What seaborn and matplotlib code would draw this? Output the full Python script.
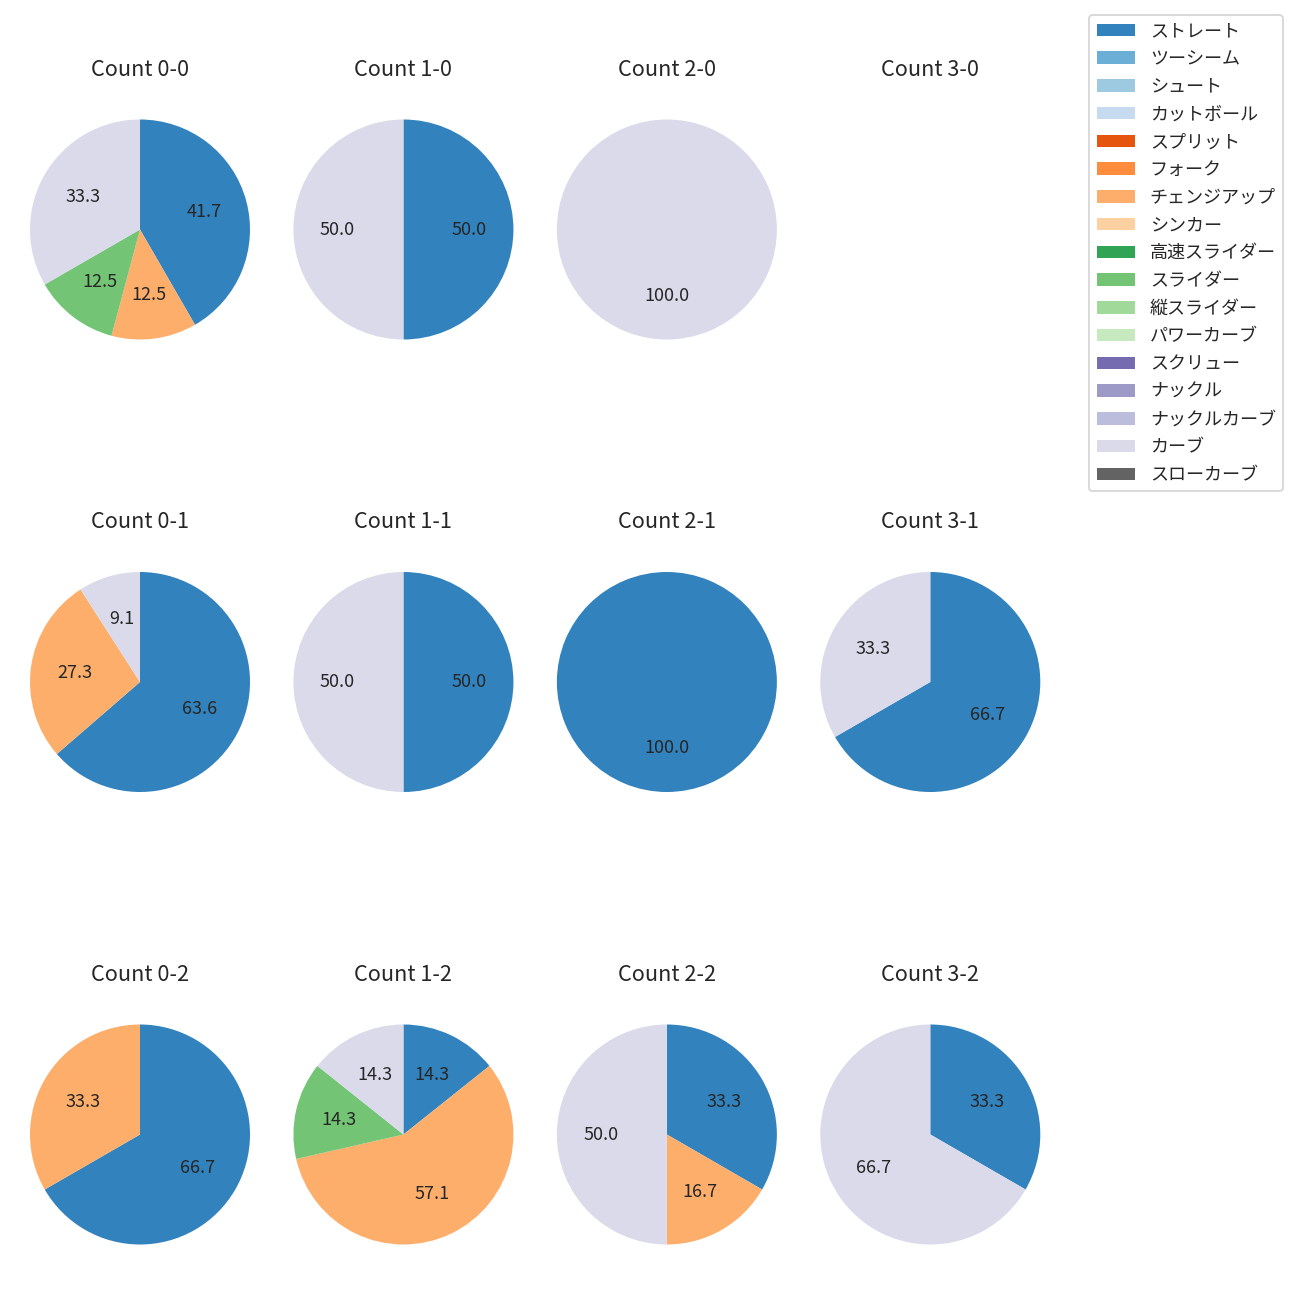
import matplotlib
matplotlib.use("Agg")
import matplotlib.pyplot as plt
from matplotlib.patches import Patch
import seaborn as sns

sns.set_style("white")
plt.rcParams['font.family'] = ['Noto Sans CJK JP', 'DejaVu Sans']
plt.rcParams['patch.force_edgecolor'] = False

# pitch types, in legend order
pitch_types = ['ストレート', 'ツーシーム', 'シュート', 'カットボール', 'スプリット', 'フォーク',
               'チェンジアップ', 'シンカー', '高速スライダー', 'スライダー', '縦スライダー',
               'パワーカーブ', 'スクリュー', 'ナックル', 'ナックルカーブ', 'カーブ', 'スローカーブ']

# counts (balls-strikes), row = strikes, column = balls
count_labels = ['0-0', '1-0', '2-0', '3-0',
                '0-1', '1-1', '2-1', '3-1',
                '0-2', '1-2', '2-2', '3-2']

# number of pitches per count for the types that were thrown
straight = [10, 1, 0, 0, 7, 1, 1, 2, 2, 1, 2, 1]
changeup = [3, 0, 0, 0, 3, 0, 0, 0, 1, 4, 1, 0]
slider = [3, 0, 0, 0, 0, 0, 0, 0, 0, 1, 0, 0]
curve = [8, 1, 1, 0, 1, 1, 0, 1, 0, 1, 3, 2]

thrown = {'ストレート': straight, 'チェンジアップ': changeup, 'スライダー': slider, 'カーブ': curve}

palette = sns.color_palette('tab20c', 20)[:len(pitch_types)]
color_map = dict(zip(pitch_types, palette))

fig, axes = plt.subplots(3, 4, figsize=(10, 10))
fig.subplots_adjust(left=0.001923, right=0.82138, top=0.92923, bottom=0.021538,
                    wspace=-0.04206, hspace=0.64545)

for i, label in enumerate(count_labels):
    ax = axes[i // 4][i % 4]
    vals, cols = [], []
    for p in pitch_types:
        if p in thrown and thrown[p][i] > 0:
            vals.append(thrown[p][i])
            cols.append(color_map[p])
    if not vals:
        ax.axis('off')
    else:
        ax.pie(vals, colors=cols, autopct='%.1f', startangle=90, counterclock=False)
    ax.set_title(f'Count {label}', pad=9)

handles = [Patch(facecolor=color_map[p], label=p) for p in pitch_types]
fig.legend(handles=handles, loc='upper right', bbox_to_anchor=(1283 / 1300, 1 - 15 / 1300),
           borderaxespad=0, labelspacing=0.54, handlelength=2.15)

plt.savefig('out.png', dpi=130)
